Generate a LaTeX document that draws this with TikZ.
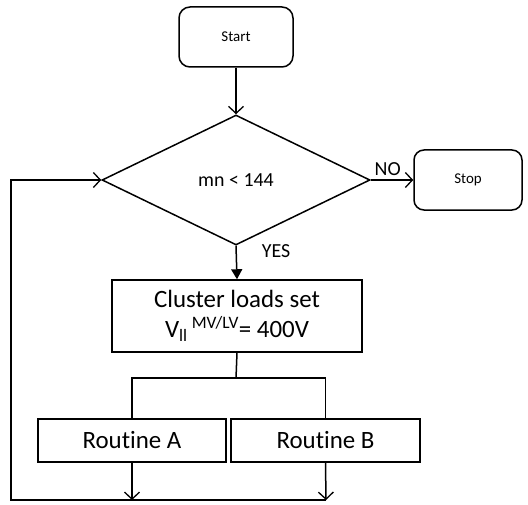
\documentclass[tikz,border=0pt]{standalone}
\usepackage{fontspec}
\setmainfont{Carlito}[Ligatures=NoCommon]
\usetikzlibrary{arrows.meta,positioning,shapes.geometric}

\begin{document}
\begin{tikzpicture}[
  x=1bp,y=-1bp,
  line width=1.5bp,
  barb/.style={-{Straight Barb[length=7bp,width=15bp,line width=1.3bp]}},
  solid tip/.style={-{Triangle[length=10bp,width=11bp]}},
  termnode/.style={
    draw,rounded corners=11bp,minimum height=60bp,font=\fontsize{15}{18}\selectfont
  },
  decnode/.style={
    draw,diamond,minimum width=268bp,minimum height=130bp,inner sep=0pt,
    font=\fontsize{20}{24}\selectfont
  },
  procnode/.style={
    draw,inner sep=0pt,font=\fontsize{25}{30}\selectfont,align=center
  },
  lbl/.style={font=\fontsize{20}{24}\selectfont,inner sep=2pt}
]
\useasboundingbox (0,0) rectangle (528,505);

% ---- start / decision / stop ----
\node[termnode,minimum width=114bp] (start) at (236,37) {Start};
\node[decnode] (dec) at (236,180) {mn < 144};
\node[termnode,minimum width=108bp,rounded corners=10bp] (stop) at (468,180) {Stop};

\draw[barb] (start) -- (dec.north);
\draw[barb] (dec.east) -- node[lbl,above,pos=0.4,yshift=2bp]{NO} (stop.west);

% ---- cluster block and the two routines ----
\node[procnode,minimum width=250bp,minimum height=72bp] (cluster) at (237,316)
  {Cluster loads set\\
   V\textsubscript{ll}\,\textsuperscript{MV/LV}= 400V};
\node[procnode,minimum width=188bp,minimum height=43bp] (routA) at (132,440.5) {Routine A};
\node[procnode,minimum width=189bp,minimum height=43bp] (routB) at (325.5,440.5) {Routine B};

\draw[solid tip] (dec.south) -- node[lbl,right,pos=0.15,xshift=23bp]{YES} (cluster.north);

\coordinate (split) at (236,378);
\draw (cluster.south) -- (split);
\draw (routA.north) |- (split) -| (routB.north);

% ---- loop back to the decision ----
\coordinate (joinA) at (132,500);
\coordinate (joinB) at (326,500);
\coordinate (corner) at (11,500);
\draw[barb] (routA.south) -- (joinA);
\draw[barb] (routB.south) -- (joinB);
\draw[barb] (joinB) -- (corner) |- (dec.west);

\end{tikzpicture}
\end{document}
